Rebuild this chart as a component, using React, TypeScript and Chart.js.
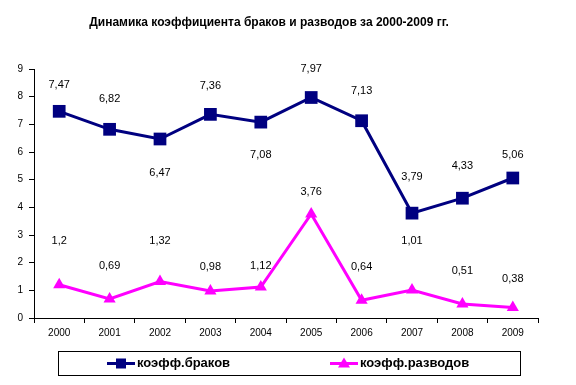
import React, { useEffect, useRef } from "react";
import { Chart, registerables } from "chart.js";

Chart.register(...registerables);

const years = ["2000", "2001", "2002", "2003", "2004", "2005", "2006", "2007", "2008", "2009"];
const marriages = [7.47, 6.82, 6.47, 7.36, 7.08, 7.97, 7.13, 3.79, 4.33, 5.06];
const divorces = [1.2, 0.69, 1.32, 0.98, 1.12, 3.76, 0.64, 1.01, 0.51, 0.38];
const marriageLabelShift = [-26, -30, 34, -28, 33, -29, -30, -36, -32, -23];
const divorceLabelShift = [-44, -33, -41, -24, -21, -22, -33, -49, -33, -29];
const yTicks = [0, 1, 2, 3, 4, 5, 6, 7, 8, 9];

const titleText = "Динамика коэффициента браков и разводов за 2000-2009 гг.";
const seriesNames = ["коэфф.браков", "коэфф.разводов"];
const FONT = "'Liberation Sans', Arial, sans-serif";

const fmt = (v: number) => String(v).replace(".", ",");

const labelsPlugin = {
  id: "valueLabels",
  afterDatasetsDraw(chart: any) {
    const ctx = chart.ctx;
    ctx.save();
    ctx.font = `11px ${FONT}`;
    ctx.fillStyle = "#000";
    ctx.textAlign = "center";
    ctx.textBaseline = "middle";
    const shifts = [marriageLabelShift, divorceLabelShift];
    chart.data.datasets.forEach((ds: any, di: number) => {
      const meta = chart.getDatasetMeta(di);
      meta.data.forEach((pt: any, i: number) => {
        ctx.fillText(fmt(ds.data[i]), pt.x, pt.y + shifts[di][i]);
      });
    });
    ctx.restore();
  },
};

const legendPlugin = {
  id: "boxLegend",
  afterDraw(chart: any) {
    const ctx = chart.ctx;
    ctx.save();
    ctx.strokeStyle = "#000";
    ctx.lineWidth = 1;
    ctx.strokeRect(58.5, 351.5, 462, 24);
    const items = [
      { x: 107, color: "#000080", shape: "square", text: seriesNames[0] },
      { x: 330, color: "#FF00FF", shape: "triangle", text: seriesNames[1] },
    ];
    const cy = 363.5;
    items.forEach((it) => {
      ctx.strokeStyle = it.color;
      ctx.lineWidth = 3;
      ctx.beginPath();
      ctx.moveTo(it.x, cy);
      ctx.lineTo(it.x + 28, cy);
      ctx.stroke();
      ctx.fillStyle = it.color;
      const mx = it.x + 14;
      if (it.shape === "square") {
        ctx.fillRect(mx - 5, cy - 5, 10, 10);
      } else {
        ctx.beginPath();
        ctx.moveTo(mx, cy - 6);
        ctx.lineTo(mx + 6, cy + 4);
        ctx.lineTo(mx - 6, cy + 4);
        ctx.closePath();
        ctx.fill();
      }
      ctx.fillStyle = "#000";
      ctx.font = `bold 13px ${FONT}`;
      ctx.textAlign = "left";
      ctx.textBaseline = "middle";
      ctx.fillText(it.text, it.x + 30, cy);
    });
    ctx.restore();
  },
};

export default function App() {
  const ref = useRef<HTMLCanvasElement | null>(null);
  useEffect(() => {
    if (!ref.current) return;
    const chart = new Chart(ref.current, {
      type: "line",
      data: {
        labels: years,
        datasets: [
          {
            label: seriesNames[0],
            data: marriages,
            borderColor: "#000080",
            backgroundColor: "#000080",
            borderWidth: 3,
            pointStyle: "rect",
            pointRadius: 9,
            pointBorderWidth: 0,
            tension: 0,
          },
          {
            label: seriesNames[1],
            data: divorces,
            borderColor: "#FF00FF",
            backgroundColor: "#FF00FF",
            borderWidth: 3,
            pointStyle: "triangle",
            pointRadius: 7,
            pointBorderWidth: 0,
            tension: 0,
          },
        ],
      },
      options: {
        animation: false,
        responsive: false,
        maintainAspectRatio: false,
        layout: { padding: { left: 0, right: 38, top: 0, bottom: 37 } },
        plugins: {
          legend: { display: false },
          tooltip: { enabled: false },
          title: {
            display: true,
            text: titleText,
            color: "#000",
            font: { family: FONT, size: 12, weight: "bold" },
            padding: { top: 15, bottom: 39.6 },
          },
        },
        scales: {
          x: {
            type: "category",
            offset: true,
            grid: {
              offset: true,
              drawOnChartArea: false,
              drawTicks: true,
              tickLength: 5,
              color: "#000",
            },
            border: { color: "#000", width: 1 },
            ticks: {
              color: "#000",
              font: { family: FONT, size: 10 },
              padding: 4,
              maxRotation: 0,
            },
            afterFit(scale: any) {
              scale.height = 30;
            },
          },
          y: {
            min: 0,
            max: 9,
            afterBuildTicks(scale: any) {
              scale.ticks = yTicks.map((v) => ({ value: v }));
            },
            grid: {
              drawOnChartArea: false,
              drawTicks: true,
              tickLength: 5,
              color: "#000",
            },
            border: { color: "#000", width: 1 },
            ticks: {
              color: "#000",
              font: { family: FONT, size: 10 },
              padding: 6,
            },
            afterFit(scale: any) {
              scale.width = 34;
            },
          },
        },
      },
      plugins: [labelsPlugin, legendPlugin],
    });
    return () => chart.destroy();
  }, []);
  return (
    <div style={{ position: "absolute", left: 0, top: 0, width: 576, height: 385, background: "#fff" }}>
      <canvas ref={ref} width={576} height={385} style={{ width: 576, height: 385 }} />
    </div>
  );
}
